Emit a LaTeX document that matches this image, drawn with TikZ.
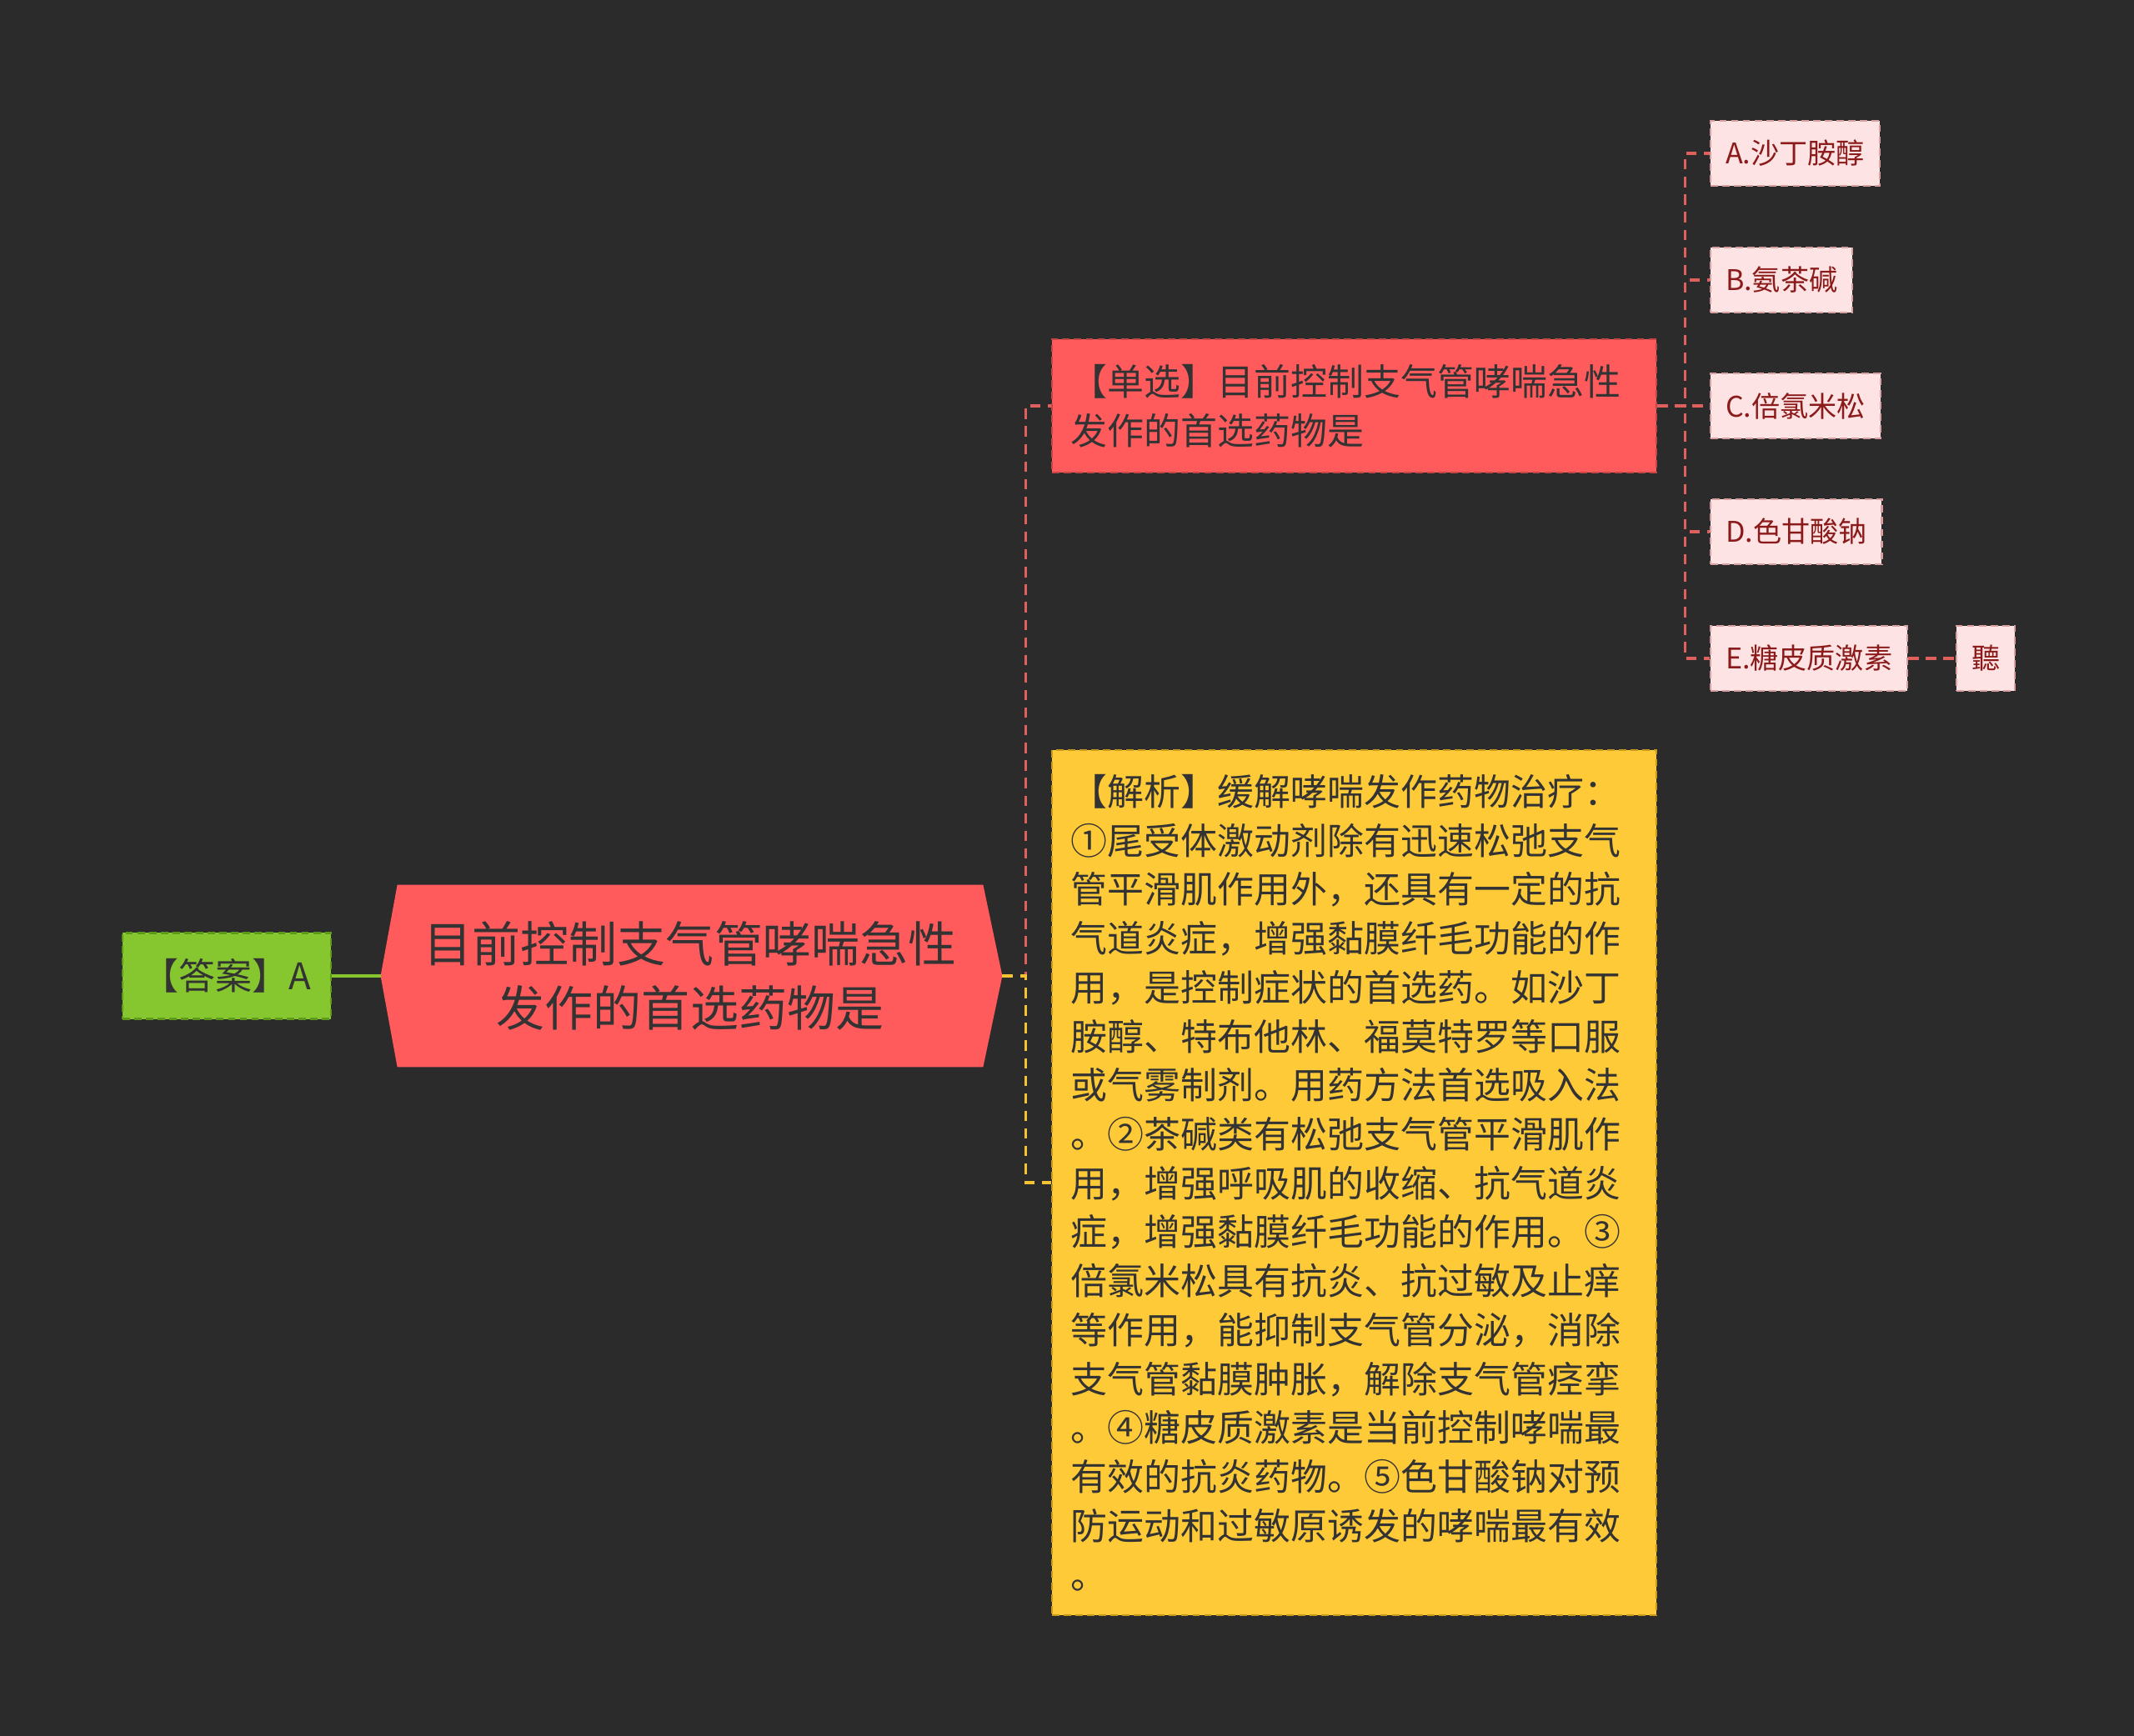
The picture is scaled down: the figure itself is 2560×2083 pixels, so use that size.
\documentclass[tikz,border=0pt]{standalone}
\usepackage{fontspec}
\usepackage{xcolor}
\usepackage{tikz}
\usetikzlibrary{calc,backgrounds}
\newfontfamily\cjkfont{Noto Sans CJK SC}
\definecolor{bgdark}{HTML}{2B2B2B}
\definecolor{textdark}{HTML}{333333}
\definecolor{greenfill}{HTML}{86C62F}
\definecolor{greenedge}{HTML}{5E9A1A}
\definecolor{redfill}{HTML}{FF5A5C}
\definecolor{rededge}{HTML}{C64646}
\definecolor{redline}{HTML}{E0605E}
\definecolor{yellowfill}{HTML}{FFCA38}
\definecolor{yellowedge}{HTML}{C99A1A}
\definecolor{yellowline}{HTML}{F5C233}
\definecolor{pinkfill}{HTML}{FDE3E3}
\definecolor{pinkedge}{HTML}{D8A0A0}
\definecolor{optred}{HTML}{8B1A1A}
\tikzset{
  boxedge/.style={dash pattern=on 2.5pt off 1.5pt,line width=0.6pt},
  link/.style={line width=1pt,dash pattern=on 3.5pt off 2.5pt},
  topicbox/.style={font=\cjkfont\fontsize{16.5}{21.8}\selectfont,text=textdark,
    align=center,minimum width=7.01cm,minimum height=2.17cm,inner sep=0pt},
  answerbox/.style={boxedge,fill=greenfill,draw=greenedge,text=textdark,
    font=\cjkfont\fontsize{12.5}{16.7}\selectfont,minimum width=2.5cm,minimum height=1.03cm},
  questbox/.style={boxedge,fill=redfill,draw=rededge,text=textdark,
    font=\cjkfont\fontsize{12.5}{16.7}\selectfont,text width=6.79cm,align=left,
    inner xsep=0.23cm,minimum height=1.6cm},
  notebox/.style={questbox,fill=yellowfill,draw=yellowedge,minimum height=10.38cm},
  optbox/.style={boxedge,fill=pinkfill,draw=pinkedge,text=optred,anchor=west,
    font=\cjkfont\fontsize{9.7}{11}\selectfont,inner xsep=0.18cm,minimum height=0.78cm}
}

\begin{document}
\begin{tikzpicture}[x=0.01cm,y=-0.01cm]
  \useasboundingbox (0,0) rectangle (2560,2083);
  \begin{scope}[on background layer]
    \fill[bgdark] (0,0) rectangle (2560,2083);
  \end{scope}

  \node[topicbox] (topic) at (828,1171) {目前控制支气管哮喘急性\\发作的首选药物是};
  \coordinate (topicL) at ($(topic.west)+(-20,0)$);
  \coordinate (topicR) at ($(topic.east)+(23,0)$);
  \begin{scope}[on background layer]
    \fill[redfill] (topic.north west) -- (topic.north east) -- (topicR)
      -- (topic.south east) -- (topic.south west) -- (topicL) -- cycle;
  \end{scope}

  \node[answerbox] (answer) at (272,1171) {【答案】A};
  \draw[line width=1.1pt,greenfill] (answer.east) -- (topicL);

  \node[questbox] (single) at (1624.5,487)
    {【单选】目前控制支气管哮喘急性\\发作的首选药物是};
  \node[notebox] (note) at (1624.5,1419)
    {【解析】缓解哮喘发作药物治疗：\\
     ①尾受体激动剂除有迅速松弛支气\\
     管平滑肌作用外，还具有一定的抗\\
     气道炎症，增强黏膜纤毛功能的作\\
     用，是控制症状的首选药。如沙丁\\
     胺醇、特布他林、福莫特罗等口服\\
     或气雾制剂。用药方法首选吸入法\\
     。②茶碱类有松弛支气管平滑肌作\\
     用，增强呼吸肌的收缩、抗气道炎\\
     症，增强黏膜纤毛功能的作用。③\\
     倍氯米松具有抗炎、抗过敏及止痒\\
     等作用，能抑制支气管分泌，消除\\
     支气管黏膜肿胀，解除支气管痉挛\\
     。④糖皮质激素是当前控制哮喘最\\
     有效的抗炎药物。⑤色甘酸钠对预\\
     防运动和过敏原诱发的哮喘最有效\\
     。};
  \draw[link,redline] (topicR) -- ++(28,0) |- (single.west);
  \draw[link,yellowline] (topicR) -- ++(28,0) |- (note.west);

  \foreach \tag/\txt/\yy in {A/A.沙丁胺醇/184,B/B.氨茶碱/336,C/C.倍氯米松/487,
      D/D.色甘酸钠/638,E/E.糖皮质激素/790} {
    \node[optbox] (opt\tag) at (2051,\yy) {\txt};
    \draw[link,redline] (single.east) -- ++(33,0) |- (opt\tag.west);
  }
  \node[optbox] (optX) at (2346,790) {聽};
  \draw[link,redline] (optE) -- (optX);
\end{tikzpicture}
\end{document}
